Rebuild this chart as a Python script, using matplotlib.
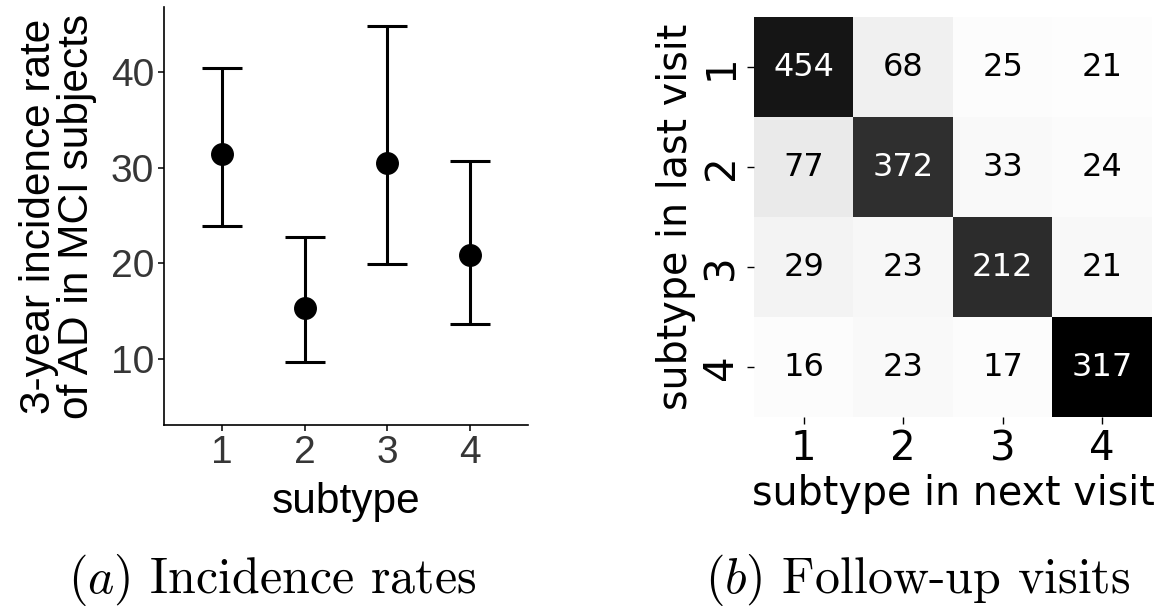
import numpy as np
import matplotlib
matplotlib.use("Agg")
import matplotlib.pyplot as plt
from matplotlib.colors import PowerNorm

plt.rcParams["mathtext.fontset"] = "cm"

# Incidence rates per subtype (point estimate with lower / upper interval)
subtypes = [1, 2, 3, 4]
rate = [31.4, 15.3, 30.5, 20.9]
rate_low = [23.9, 9.7, 19.9, 13.7]
rate_high = [40.4, 22.8, 44.8, 30.7]

# Transition counts between visits: rows = last visit, cols = next visit
trans_labels = ["1", "2", "3", "4"]
counts = np.array([
    [454, 68, 25, 21],
    [77, 372, 33, 24],
    [29, 23, 212, 21],
    [16, 23, 17, 317],
])

W, H = 1167, 612
fig = plt.figure(figsize=(W / 100, H / 100), dpi=100)
fig.patch.set_facecolor("white")


def px_axes(x0, y0, x1, y1):
    return fig.add_axes([x0 / W, 1 - y1 / H, (x1 - x0) / W, (y1 - y0) / H])


# ---- (a) incidence rates ----
ax = px_axes(164, 7, 528, 425)
yerr = [np.array(rate) - np.array(rate_low), np.array(rate_high) - np.array(rate)]
ax.errorbar(subtypes, rate, yerr=yerr, fmt="o", color="black", ms=15.5,
            elinewidth=2.2, capsize=14.5, capthick=2.2)
ax.set_xlim(0.3, 4.7)
ax.set_ylim(3.1, 46.8)
ax.set_xticks(subtypes)
ax.set_yticks([10, 20, 30, 40])
for s in ["top", "right"]:
    ax.spines[s].set_visible(False)
for s in ["left", "bottom"]:
    ax.spines[s].set_linewidth(1.2)
ax.tick_params(labelsize=28, length=4, width=1.1, labelcolor="#363636", pad=3)
for lab in ax.get_xticklabels() + ax.get_yticklabels():
    lab.set_family("Liberation Sans")
ax.set_xlabel("subtype", fontsize=30.5, family="Liberation Sans", labelpad=8)
ax.set_ylabel("3-year incidence rate\nof AD in MCI subjects", fontsize=30.5,
              family="Liberation Sans", linespacing=0.95, labelpad=10)

# ---- (b) follow-up visits, shaded by row share ----
share = counts / counts.sum(axis=1, keepdims=True)
hx = px_axes(754, 17, 1152, 417)
hx.imshow(share, cmap="gray_r", norm=PowerNorm(1.43, vmin=0, vmax=share.max()),
          aspect="auto")
for i in range(counts.shape[0]):
    for j in range(counts.shape[1]):
        c = "white" if share[i, j] > 0.5 else "black"
        hx.text(j, i, str(counts[i, j]), ha="center", va="center",
                fontsize=23, color=c)
hx.set_xticks(range(4))
hx.set_yticks(range(4))
hx.set_xticklabels(trans_labels)
hx.set_yticklabels(trans_labels, rotation=90, va="center")
for s in hx.spines.values():
    s.set_visible(False)
hx.tick_params(labelsize=29, length=5, width=1, pad=4)
hx.set_xlabel("subtype in next visit", fontsize=28.5, labelpad=3)
hx.set_ylabel("subtype in last visit", fontsize=28.5, labelpad=4)

# ---- captions ----
fig.text(272 / W, 1 - 593 / H, r"$(a)$ Incidence rates", family="cmr10",
         fontsize=36, ha="center", va="baseline")
fig.text(918 / W, 1 - 593 / H, r"$(b)$ Follow-up visits", family="cmr10",
         fontsize=36, ha="center", va="baseline")

fig.savefig("out.png", dpi=100, facecolor="white")
